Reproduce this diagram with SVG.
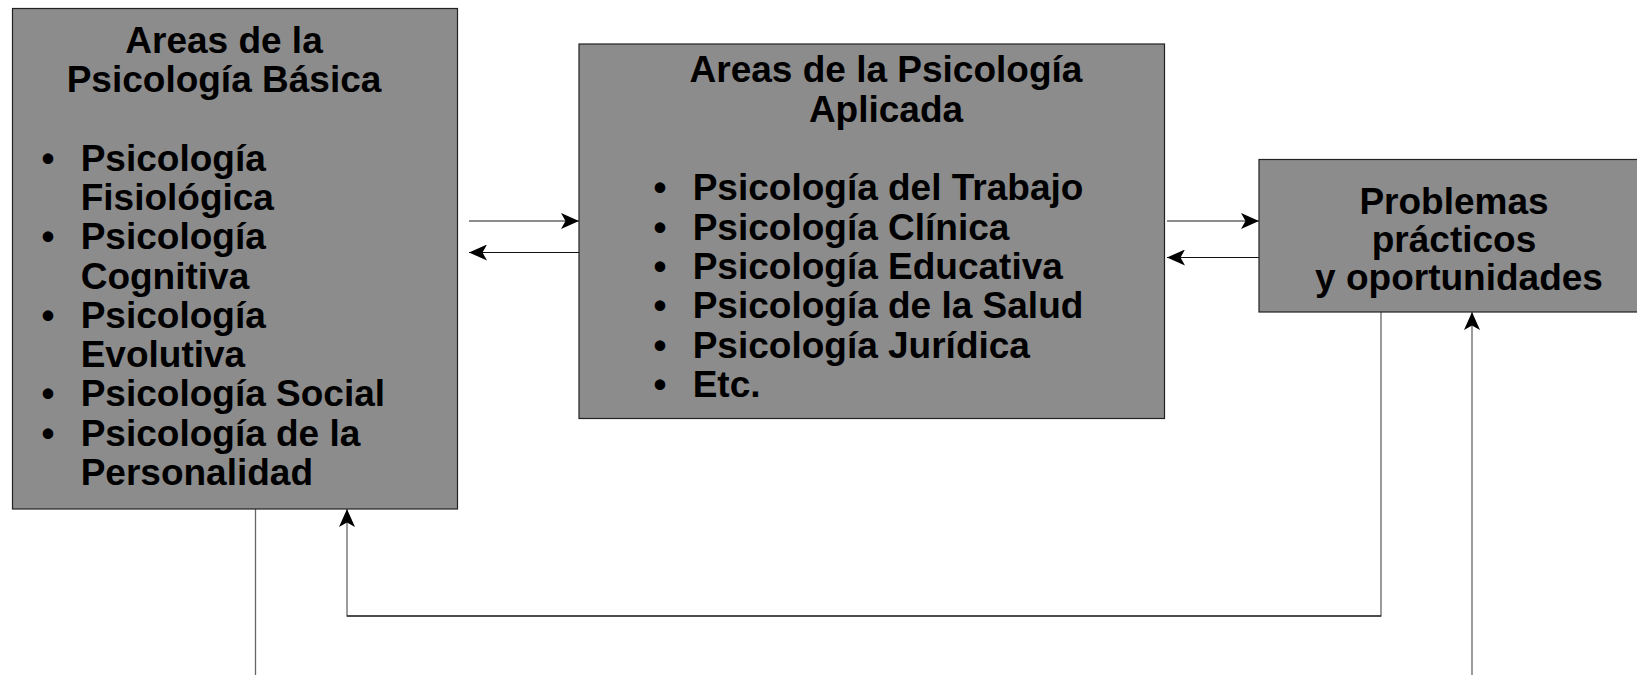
<svg xmlns="http://www.w3.org/2000/svg" width="1637" height="675" viewBox="0 0 1637 675">
<style>
.box{fill:#8c8c8c;stroke:#222;stroke-width:1.2}
.t{font-family:"Liberation Sans",Arial,sans-serif;font-weight:bold;font-size:37px;fill:#000}
.c{text-anchor:middle}
.g{stroke:#666;stroke-width:1.3;fill:none}
.k{stroke:#111;stroke-width:1.2;fill:none}
</style>
<defs>
<marker id="ah" viewBox="0 0 18 16" refX="18" refY="8" markerWidth="18" markerHeight="16" markerUnits="userSpaceOnUse" orient="auto">
<path d="M0,0 L18,8 L0,16 L4.5,8 Z" fill="#000"/>
</marker>
</defs>
<g id="connectors">
<line class="g" x1="469" y1="221" x2="579" y2="221" marker-end="url(#ah)"/>
<line class="k" x1="579" y1="252.5" x2="469" y2="252.5" marker-end="url(#ah)"/>
<line class="g" x1="1167" y1="221" x2="1259" y2="221" marker-end="url(#ah)"/>
<line class="k" x1="1259" y1="257.5" x2="1167" y2="257.5" marker-end="url(#ah)"/>
<polyline class="g" points="1381,312 1381,616 347,616 347,509" marker-end="url(#ah)"/>
<line class="k" x1="347" y1="616" x2="1381" y2="616"/>
<line class="g" x1="255.5" y1="509" x2="255.5" y2="675"/>
<line class="g" x1="1472" y1="675" x2="1472" y2="312" marker-end="url(#ah)"/>
</g>
<g id="basica">
<rect class="box" x="12.5" y="8.5" width="445" height="500.5"/>
<text class="t c" x="224" y="52.7">Areas de la</text>
<text class="t c" x="224" y="92">Psicología Básica</text>
<g class="t">
<text class="t c" x="48" y="170.6">•</text><text class="t" x="80.7" y="170.6">Psicología</text>
<text class="t" x="80.7" y="209.9">Fisiológica</text>
<text class="t c" x="48" y="249.2">•</text><text class="t" x="80.7" y="249.2">Psicología</text>
<text class="t" x="80.7" y="288.5">Cognitiva</text>
<text class="t c" x="48" y="327.8">•</text><text class="t" x="80.7" y="327.8">Psicología</text>
<text class="t" x="80.7" y="367.1">Evolutiva</text>
<text class="t c" x="48" y="406.4">•</text><text class="t" x="80.7" y="406.4">Psicología Social</text>
<text class="t c" x="48" y="445.7">•</text><text class="t" x="80.7" y="445.7">Psicología de la</text>
<text class="t" x="80.7" y="485">Personalidad</text>
</g>
</g>
<g id="aplicada">
<rect class="box" x="579" y="44" width="585.5" height="374.5"/>
<text class="t c" x="886" y="82.3">Areas de la Psicología</text>
<text class="t c" x="886" y="121.7">Aplicada</text>
<text class="t c" x="660" y="200.3">•</text><text class="t" x="692.7" y="200.3">Psicología del Trabajo</text>
<text class="t c" x="660" y="239.6">•</text><text class="t" x="692.7" y="239.6">Psicología Clínica</text>
<text class="t c" x="660" y="278.9">•</text><text class="t" x="692.7" y="278.9">Psicología Educativa</text>
<text class="t c" x="660" y="318.2">•</text><text class="t" x="692.7" y="318.2">Psicología de la Salud</text>
<text class="t c" x="660" y="357.5">•</text><text class="t" x="692.7" y="357.5">Psicología Jurídica</text>
<text class="t c" x="660" y="396.8">•</text><text class="t" x="692.7" y="396.8">Etc.</text>
</g>
<g id="problemas">
<rect class="box" x="1259" y="159.5" width="400" height="152.5"/>
<text class="t c" x="1454" y="214.3">Problemas</text>
<text class="t c" x="1454" y="252">prácticos</text>
<text class="t c" x="1459" y="290">y oportunidades</text>
</g>
</svg>
